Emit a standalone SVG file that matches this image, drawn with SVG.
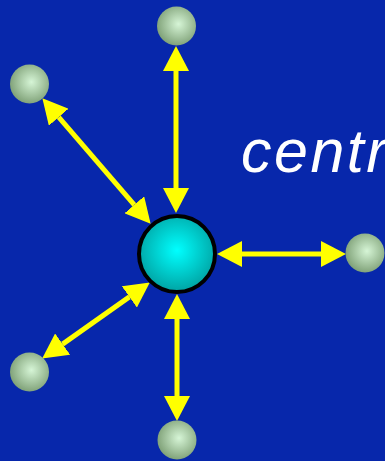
<svg xmlns="http://www.w3.org/2000/svg" width="385" height="461" viewBox="0 0 385 461">
<style>
.bg{fill:#0727ab}
.arr{stroke:#ffff00;stroke-width:5;fill:none;marker-start:url(#ah);marker-end:url(#ah)}
.sat{fill:url(#gs)}
.hub{fill:url(#gc);stroke:#000;stroke-width:4}
.lbl{font-family:"Liberation Sans",Arial,sans-serif;font-style:italic;font-size:61px;letter-spacing:2.5px;fill:#fff}
</style>
<defs>
<radialGradient id="gs" cx="0.55" cy="0.45" r="0.6">
<stop offset="0" stop-color="#d6f5d6"/>
<stop offset="1" stop-color="#7a9c72"/>
</radialGradient>
<radialGradient id="gc" cx="0.5" cy="0.45" r="0.6">
<stop offset="0" stop-color="#00ffff"/>
<stop offset="1" stop-color="#009a9a"/>
</radialGradient>
<marker id="ah" markerUnits="userSpaceOnUse" markerWidth="26" markerHeight="26" refX="0" refY="13" viewBox="0 0 26 26" orient="auto-start-reverse">
<path d="M0,0 L25,13 L0,26 z" fill="#ffff00"/>
</marker>
</defs>
<rect class="bg" x="0" y="0" width="385" height="461"/>
<text class="lbl" x="241" y="172">centr</text>
<g id="connectors">
<line class="arr" x1="176" y1="71" x2="176" y2="188"/>
<line class="arr" x1="58.7" y1="117.2" x2="134.3" y2="204.8"/>
<line class="arr" x1="242" y1="254" x2="321" y2="254"/>
<line class="arr" x1="62.6" y1="344.1" x2="129.4" y2="296.9"/>
<line class="arr" x1="177" y1="319" x2="177" y2="396"/>
</g>
<g id="hub"><circle class="hub" cx="177" cy="254" r="38"/></g>
<g id="n-top"><circle class="sat" cx="176.5" cy="26" r="19.5"/></g>
<g id="n-upleft"><circle class="sat" cx="29.5" cy="84" r="19.5"/></g>
<g id="n-right"><circle class="sat" cx="365" cy="253" r="19.5"/></g>
<g id="n-lowleft"><circle class="sat" cx="29.5" cy="372" r="19.5"/></g>
<g id="n-bottom"><circle class="sat" cx="177" cy="440" r="19.5"/></g>
</svg>
